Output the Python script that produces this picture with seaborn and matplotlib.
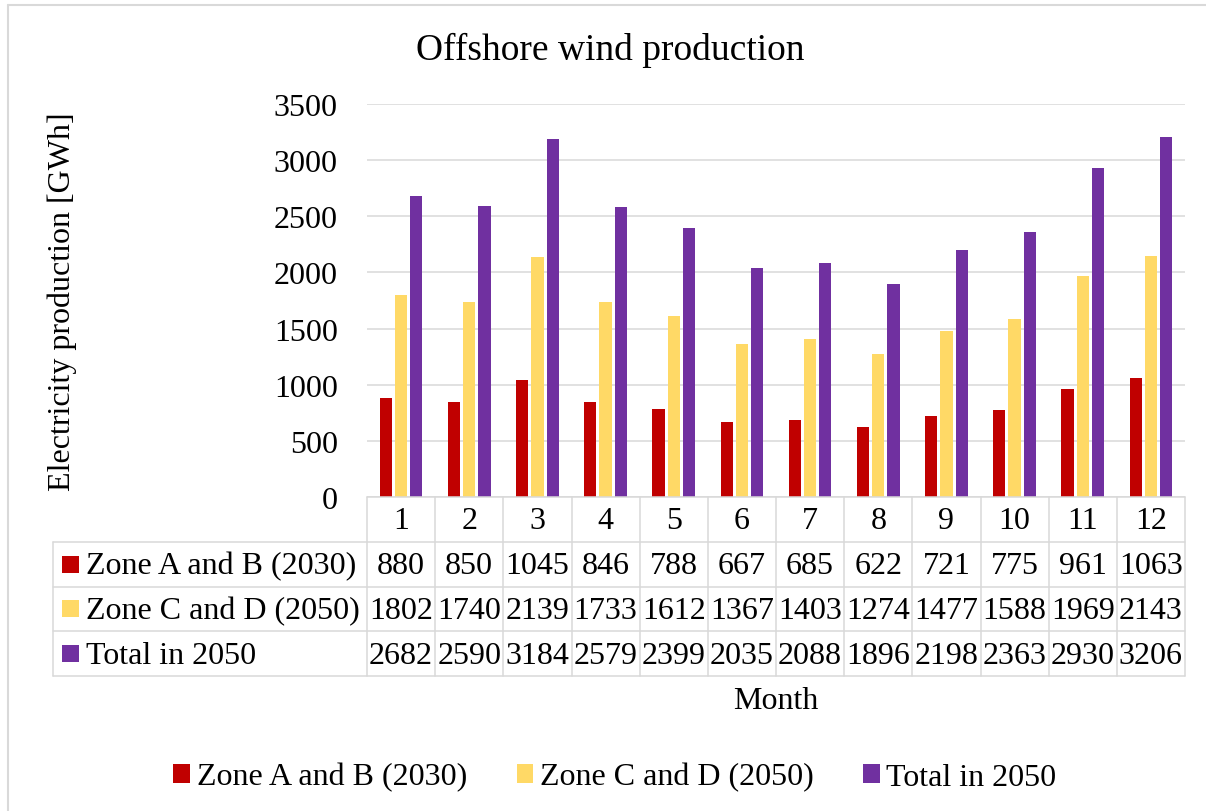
import numpy as np
import pandas as pd
import matplotlib
matplotlib.use("Agg")
import matplotlib.pyplot as plt
from matplotlib.lines import Line2D
from matplotlib.patches import Rectangle
import matplotlib.transforms as mtransforms
import seaborn as sns

# ---- data -------------------------------------------------------------
months = [str(m) for m in range(1, 13)]
series_names = ["Zone A and B (2030)", "Zone C and D (2050)", "Total in 2050"]
zone_ab_2030 = [880, 850, 1045, 846, 788, 667, 685, 622, 721, 775, 961, 1063]
zone_cd_2050 = [1802, 1740, 2139, 1733, 1612, 1367, 1403, 1274, 1477, 1588, 1969, 2143]
total_2050 = [2682, 2590, 3184, 2579, 2399, 2035, 2088, 1896, 2198, 2363, 2930, 3206]
series_values = [zone_ab_2030, zone_cd_2050, total_2050]
colors = ["#C00000", "#FFD966", "#7030A0"]
y_ticks = [0, 500, 1000, 1500, 2000, 2500, 3000, 3500]

title = "Offshore wind production"
y_label = "Electricity production [GWh]"
x_label = "Month"

df = pd.DataFrame({
    "Month": months * len(series_names),
    "Series": np.repeat(series_names, len(months)),
    "Value": np.concatenate(series_values),
})

# ---- style ------------------------------------------------------------
sns.set_style("white")
plt.rcParams["font.family"] = ["Liberation Serif", "DejaVu Serif"]
for key in ["text.color", "axes.labelcolor", "xtick.color", "ytick.color"]:
    plt.rcParams[key] = "black"
FS = 23
GRID = "#D9D9D9"

W, H = 1206, 812
fig = plt.figure(figsize=(W / 100, H / 100), dpi=100)
ax_l, ax_r, ax_t, ax_b = 367, 1185, 105, 498
ax = fig.add_axes([ax_l / W, 1 - ax_b / H, (ax_r - ax_l) / W, (ax_b - ax_t) / H])
ax_w_px, ax_h_px = ax_r - ax_l, ax_b - ax_t

sns.barplot(data=df, x="Month", y="Value", hue="Series", order=months,
            hue_order=series_names, palette=colors, saturation=1,
            width=0.673, gap=0.2, linewidth=0, ax=ax)
handles, labels = ax.get_legend_handles_labels()
if ax.get_legend() is not None:
    ax.get_legend().remove()

ax.set_xlim(-0.5, len(months) - 0.5)
ax.set_ylim(0, 3500)
ax.set_yticks(y_ticks)
ax.tick_params(axis="y", length=0, pad=21, labelsize=FS, labelcolor="black")
ax.tick_params(axis="x", length=0, labelbottom=False)
ax.yaxis.grid(True, color=GRID, lw=1.1)
ax.set_axisbelow(True)
for s in ax.spines.values():
    s.set_visible(False)

ax.set_ylabel(y_label, fontsize=FS, color="black")
ax.yaxis.label.set_va("center")
ax.yaxis.set_label_coords((62 - ax_l) / ax_w_px, 0.5)

ax.set_xlabel(x_label, fontsize=FS, color="black")
ax.xaxis.label.set_va("center")
ax.xaxis.set_label_coords(0.5, (ax_b - 702) / ax_h_px)

fig.suptitle(title, x=610 / W, y=1 - 50 / H, va="center", fontsize=27,
             color="black")

# ---- data table below the plot ---------------------------------------
row_h = 44.75 / ax_h_px
n_rows = 1 + len(series_names)
bottom = -n_rows * row_h
label_left = (52.7 - ax_l) / ax_w_px
text_dy = 1.5 / ax_h_px
blend = mtransforms.blended_transform_factory(ax.transData, ax.transAxes)
line_kw = dict(color=GRID, lw=1.1, clip_on=False, zorder=5)

# horizontal lines
ax.add_line(Line2D([0, 1], [0, 0], transform=ax.transAxes, **line_kw))
for r in range(1, n_rows + 1):
    ax.add_line(Line2D([label_left, 1], [-r * row_h, -r * row_h],
                       transform=ax.transAxes, **line_kw))
# vertical lines
for i in range(len(months) + 1):
    ax.add_line(Line2D([i - 0.5, i - 0.5], [0, bottom], transform=blend, **line_kw))
ax.add_line(Line2D([label_left, label_left], [-row_h, bottom],
                   transform=ax.transAxes, **line_kw))

# header row: month numbers
for i, m in enumerate(months):
    ax.text(i, -0.5 * row_h - text_dy, m, transform=blend, ha="center",
            va="center", fontsize=FS, color="black", clip_on=False)

# series rows
sq_w = 17 / ax_w_px
sq_h = 17 / ax_h_px
for r, (name, vals, c) in enumerate(zip(series_names, series_values, colors), start=1):
    yc = -(r + 0.5) * row_h
    ax.add_patch(Rectangle(((62 - ax_l) / ax_w_px, yc - sq_h / 2), sq_w, sq_h,
                           transform=ax.transAxes, facecolor=c, edgecolor="none",
                           clip_on=False))
    ax.text((86 - ax_l) / ax_w_px, yc - text_dy, name, transform=ax.transAxes,
            ha="left", va="center", fontsize=FS, color="black", clip_on=False)
    for i, v in enumerate(vals):
        ax.text(i, yc - text_dy, f"{v}", transform=blend, ha="center",
                va="center", fontsize=FS, color="black", clip_on=False)

# ---- legend -----------------------------------------------------------
fig.legend(handles, labels, loc="center", bbox_to_anchor=(615 / W, 1 - 778 / H),
           ncol=3, frameon=False, fontsize=FS, handlelength=0.53,
           handleheight=0.53, handletextpad=0.2, columnspacing=1.55,
           labelcolor="black")

# ---- chart border -----------------------------------------------------
fig.add_artist(Line2D([7.5 / W, 7.5 / W], [0, 1 - 5.5 / H],
                      transform=fig.transFigure, color=GRID, lw=1.5))
fig.add_artist(Line2D([7.5 / W, 1], [1 - 5.5 / H, 1 - 5.5 / H],
                      transform=fig.transFigure, color=GRID, lw=1.5))

fig.savefig("out.png", dpi=100)
